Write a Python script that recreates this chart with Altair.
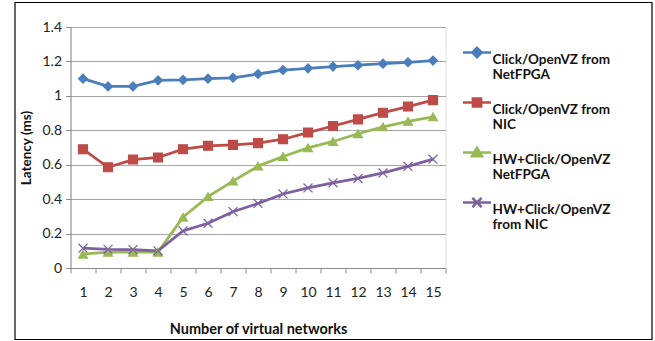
import altair as alt
import pandas as pd

networks = list(range(1, 16))
series_names = [
    "Click/OpenVZ from NetFPGA",
    "Click/OpenVZ from NIC",
    "HW+Click/OpenVZ NetFPGA",
    "HW+Click/OpenVZ from NIC",
]
legend_labels = [
    "Click/OpenVZ from|NetFPGA",
    "Click/OpenVZ from|NIC",
    "HW+Click/OpenVZ|NetFPGA",
    "HW+Click/OpenVZ|from NIC",
]
click_netfpga = [1.10, 1.055, 1.055, 1.09, 1.093, 1.10, 1.105, 1.127, 1.15, 1.16, 1.17, 1.178, 1.187, 1.195, 1.205]
click_nic = [0.69, 0.585, 0.63, 0.642, 0.69, 0.71, 0.715, 0.725, 0.748, 0.787, 0.825, 0.863, 0.902, 0.938, 0.975]
hw_netfpga = [0.08, 0.092, 0.092, 0.092, 0.295, 0.415, 0.505, 0.592, 0.648, 0.698, 0.735, 0.78, 0.82, 0.852, 0.878]
hw_nic = [0.115, 0.108, 0.107, 0.1, 0.215, 0.26, 0.327, 0.375, 0.43, 0.465, 0.495, 0.52, 0.552, 0.59, 0.632]
colors = ["#4A7EBB", "#BE4B48", "#98B954", "#7D60A0"]
y_ticks = [0, 0.2, 0.4, 0.6, 0.8, 1, 1.2, 1.4]
x_ticks = [i / 2 for i in range(1, 32)]

rows = []
for name, lab, vals in zip(series_names, legend_labels,
                           [click_netfpga, click_nic, hw_netfpga, hw_nic]):
    for n, v in zip(networks, vals):
        rows.append({"n": n, "latency": v, "series": lab})
df = pd.DataFrame(rows)

FONT = "Lato"

x_enc = alt.X(
    "n:Q",
    scale=alt.Scale(domain=[0.5, 15.5], nice=False, zero=False),
    axis=alt.Axis(
        title="Number of virtual networks",
        values=x_ticks,
        format="~g",
        labelExpr="datum.value % 1 == 0 ? datum.label : ''",
        tickOpacity={"condition": {"test": "datum.value % 1 != 0", "value": 1}, "value": 0},
        labelOverlap=False,
        labelBound=False,
        labelFlush=False,
        grid=False,
        domainColor="#8C8C8C",
        tickColor="#8C8C8C",
        tickSize=5,
        labelPadding=12,
        labelFontSize=14,
        labelColor="#222222",
        labelFont=FONT,
        titleFont=FONT,
        titleFontSize=14.5,
        titleFontWeight="bold",
        titleColor="#111111",
        titlePadding=23,
    ),
)
y_enc = alt.Y(
    "latency:Q",
    scale=alt.Scale(domain=[0, 1.4], nice=False),
    axis=alt.Axis(
        title="Latency (ms)",
        values=y_ticks,
        format="~g",
        grid=True,
        gridColor="#A6A6A6",
        domainColor="#8C8C8C",
        tickColor="#8C8C8C",
        tickSize=5,
        labelPadding=4,
        labelFontSize=14,
        labelColor="#222222",
        labelFont=FONT,
        titleFont=FONT,
        titleFontSize=13.5,
        titleFontWeight="bold",
        titleColor="#111111",
        titlePadding=8,
    ),
)

dom = legend_labels

lines = alt.Chart(df).mark_line(strokeWidth=2.8).encode(
    x=x_enc, y=y_enc,
    color=alt.Color("series:N", scale=alt.Scale(domain=dom, range=colors), legend=None),
)

points = alt.Chart(df).mark_point(filled=True, size=80, strokeWidth=1.2, opacity=1).encode(
    x=x_enc, y=y_enc,
    color=alt.Color("series:N", scale=alt.Scale(domain=dom, range=colors), legend=None),
    shape=alt.Shape("series:N", scale=alt.Scale(
        domain=dom,
        range=["diamond", "square", "triangle-up", "M-1,-1L1,1M-1,1L1,-1"]), legend=None),
    stroke=alt.Stroke("series:N", scale=alt.Scale(domain=dom, range=colors), legend=None),
)

legend_paths = [
    "M-1,0L1,0M0,-0.33L0.33,0L0,0.33L-0.33,0Z",
    "M-1,0L1,0M-0.29,-0.29L0.29,-0.29L0.29,0.29L-0.29,0.29Z",
    "M-1,0L1,0M0,-0.33L0.36,0.27L-0.36,0.27Z",
    "M-1,0L1,0M-0.33,-0.33L0.33,0.33M-0.33,0.33L0.33,-0.33",
]
leg = alt.Legend(
    title=None,
    orient="none",
    legendX=391,
    legendY=10,
    padding=0,
    symbolSize=784,
    symbolStrokeWidth=2.6,
    symbolOpacity=1,
    labelExpr="split(datum.label, '|')",
    labelFont=FONT,
    labelFontSize=13.5,
    labelFontWeight="bold",
    labelColor="#111111",
    labelOffset=0,
    labelLimit=200,
    labelBaseline="top",
    rowPadding=5,
    symbolOffset=0,
)
legend_layer = alt.Chart(df).mark_point(filled=True, opacity=0).encode(
    x=x_enc, y=y_enc,
    color=alt.Color("series:N", scale=alt.Scale(domain=dom, range=colors), legend=leg),
    stroke=alt.Stroke("series:N", scale=alt.Scale(domain=dom, range=colors), legend=leg),
    shape=alt.Shape("series:N", scale=alt.Scale(domain=dom, range=legend_paths), legend=leg),
)

border = alt.Chart(pd.DataFrame({"a": [0]})).mark_rect(
    fill=None, stroke="#000000", strokeWidth=1.2
).encode(
    x=alt.value(-55.5), x2=alt.value(581.5), y=alt.value(-24.5), y2=alt.value(312.5)
)

chart = alt.layer(border, lines, points, legend_layer).resolve_scale(
    color="independent", shape="independent", stroke="independent"
).properties(
    width=375, height=241,
    padding={"left": 70.5, "top": 27, "right": 209.5, "bottom": 73},
    autosize=alt.AutoSizeParams(type="none"),
).configure_view(stroke=None).configure(background="white")

chart.save("out.html", embed_options={"renderer": "svg", "actions": False})
